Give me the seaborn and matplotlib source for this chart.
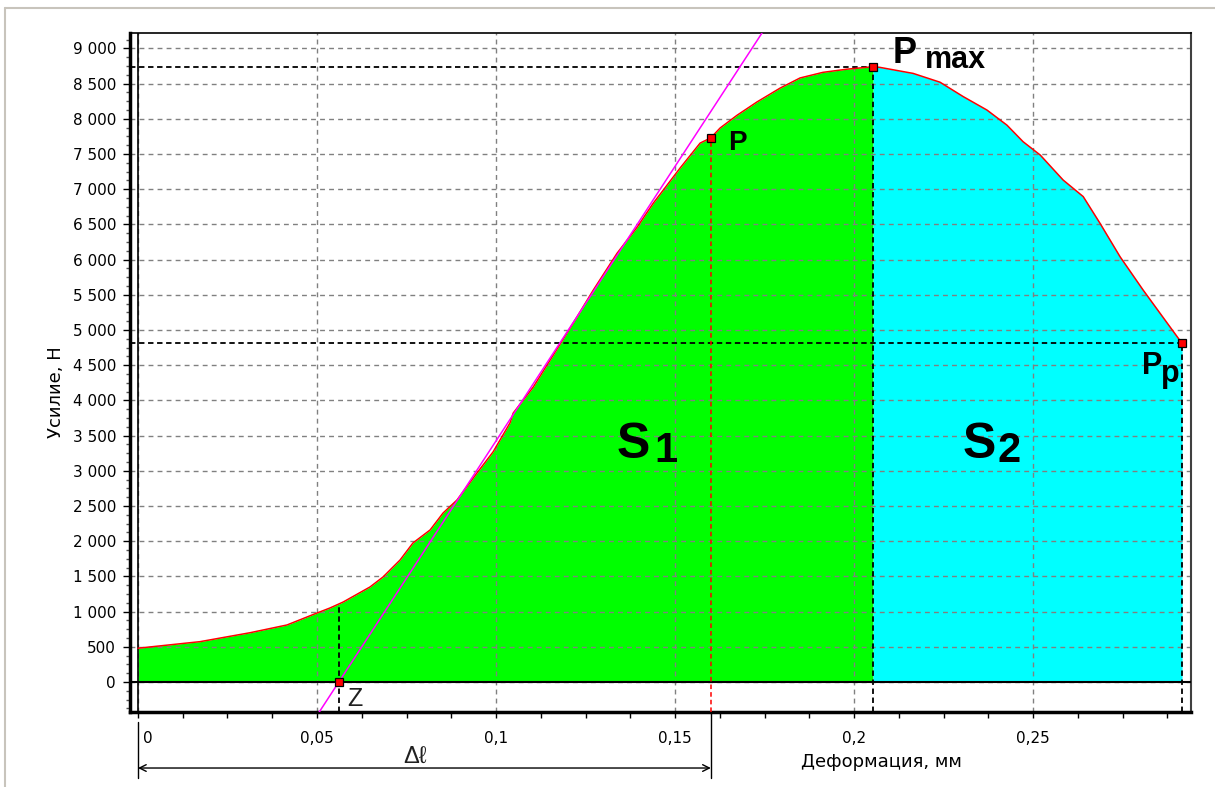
import matplotlib
matplotlib.use("Agg")
import matplotlib.pyplot as plt
from matplotlib.lines import Line2D
from matplotlib.ticker import MultipleLocator, FixedLocator
from matplotlib.transforms import ScaledTranslation
import numpy as np
import pandas as pd
import seaborn as sns

# deformation (mm) / force (N)
deformation = [0.0000, 0.0173, 0.0313, 0.0416, 0.0500, 0.0536, 0.0573, 0.0648,
               0.0684, 0.0732, 0.0768, 0.0816, 0.0852, 0.0891, 0.0947, 0.0992,
               0.1039, 0.1048, 0.1104, 0.1179, 0.1226, 0.1272, 0.1338, 0.1394,
               0.1439, 0.1514, 0.1570, 0.1600, 0.1626, 0.1673, 0.1729, 0.1793,
               0.1849, 0.1913, 0.1980, 0.2053, 0.2073, 0.2165, 0.2240, 0.2305,
               0.2371, 0.2427, 0.2472, 0.2520, 0.2584, 0.2640, 0.2687, 0.2743,
               0.2807, 0.2855, 0.2916]
force = [480, 573, 700, 810, 980, 1051, 1136, 1350,
         1490, 1733, 1975, 2160, 2400, 2585, 2970, 3270,
         3680, 3820, 4190, 4800, 5185, 5570, 6090, 6460,
         6800, 7300, 7655, 7730, 7870, 8050, 8240, 8435,
         8580, 8660, 8705, 8740, 8730, 8645, 8520, 8315,
         8125, 7910, 7675, 7485, 7130, 6895, 6515, 6040,
         5570, 5235, 4810]

# characteristic points
p_point = (0.1600, 7730)
pmax_point = (0.2053, 8740)
pp_point = (0.2916, 4810)
z_point = (0.0561, 0)

# tangent line through Z
tangent_x = [0.0500, 0.1750]
tangent_y = [-475, 9275]

x_ticks = [0, 0.05, 0.1, 0.15, 0.2, 0.25]
x_tick_labels = ["0", "0,05", "0,1", "0,15", "0,2", "0,25"]
y_ticks = list(range(0, 9001, 500))
y_tick_labels = [f"{v:,}".replace(",", " ") for v in y_ticks]

df = pd.DataFrame({"x": deformation, "y": force})

sns.set_theme(style="white")
plt.rcParams["font.family"] = ["Liberation Sans", "DejaVu Sans"]
plt.rcParams["text.color"] = "black"
plt.rcParams["axes.labelcolor"] = "black"
plt.rcParams["xtick.color"] = "black"
plt.rcParams["ytick.color"] = "black"

ui_font = ["DejaVu Sans"]

fig = plt.figure(figsize=(12.15, 7.87), dpi=100)
ax = fig.add_axes([130 / 1215, 75 / 787, 1061 / 1215, 679 / 787])

xmin, xmax = -0.00223, 0.2941
ymin, ymax = -426, 9219
ax.set_xlim(xmin, xmax)
ax.set_ylim(ymin, ymax)

# filled areas S1 and S2
s1 = df[df.x <= pmax_point[0]]
s2 = df[df.x >= pmax_point[0]]
ax.fill_between(s1.x, s1.y, 0, color="#00FF00", lw=0, zorder=1)
ax.fill_between(s2.x, s2.y, 0, color="#00FFFF", lw=0, zorder=1)

# grid over the fill
ax.set_axisbelow("line")
ax.grid(True, which="major", color="#808080", linestyle=(0, (3.5, 3)), linewidth=1)

# zero lines
ax.axhline(0, color="black", lw=1.5, zorder=3)
ax.axvline(0, color="black", lw=1.2, zorder=3)

# curve
sns.lineplot(data=df, x="x", y="y", ax=ax, color="red", lw=1.1, sort=False, zorder=4)

# tangent
ax.plot(tangent_x, tangent_y, color="#FF00FF", lw=1.1, zorder=4)

dash = (0, (3, 2))
ax.hlines(pmax_point[1], xmin, pmax_point[0], color="black", lw=1.3, linestyle=dash, zorder=3)
ax.hlines(pp_point[1], xmin, pp_point[0], color="black", lw=1.3, linestyle=dash, zorder=3)
ax.vlines(pmax_point[0], ymin, pmax_point[1], color="black", lw=1.3, linestyle=dash, zorder=3)
ax.vlines(pp_point[0], ymin, pp_point[1], color="black", lw=1.3, linestyle=dash, zorder=3)
ax.vlines(p_point[0], ymin, p_point[1], color="red", lw=1.1, linestyle=dash, zorder=3)
z_top = np.interp(z_point[0], deformation, force)
ax.vlines(z_point[0], ymin, z_top, color="black", lw=1.3, linestyle=dash, zorder=3)

# markers
for px, py in [p_point, pmax_point, pp_point, z_point]:
    ax.plot(px, py, marker="s", ms=5.5, mfc="red", mec="black", mew=0.9, zorder=6, clip_on=False)

# labels on the chart
ax.text(0.1648, 7557, "P", fontsize=20, fontweight="bold", va="baseline", zorder=7)
ax.text(0.2109, 8793, "P", fontsize=26, fontweight="bold", va="baseline", zorder=7)
ax.text(0.2199, 8722, "max", fontsize=22, fontweight="bold", va="baseline", zorder=7)
ax.text(0.2805, 4375, "P", fontsize=22, fontweight="bold", va="baseline", zorder=7)
ax.text(0.2858, 4255, "p", fontsize=22, fontweight="bold", va="baseline", zorder=7)
ax.text(0.1338, 3182, "S", fontsize=36, fontweight="bold", va="baseline", zorder=7)
ax.text(0.1442, 3125, "1", fontsize=30, fontweight="bold", va="baseline", zorder=7)
ax.text(0.2304, 3182, "S", fontsize=36, fontweight="bold", va="baseline", zorder=7)
ax.text(0.2400, 3125, "2", fontsize=30, fontweight="bold", va="baseline", zorder=7)
ax.text(0.0584, -341, "Z", fontsize=18, va="baseline", color="#202020", zorder=7)

# delta-l dimension below the axis
xt = ax.get_xaxis_transform()
ax.plot([0, 0], [-0.015, -0.097], transform=xt, color="black", lw=1, clip_on=False)
ax.plot([p_point[0], p_point[0]], [0, -0.097], transform=xt, color="black", lw=1, clip_on=False)
ax.annotate("", xy=(0, -0.0825), xytext=(p_point[0], -0.0825), xycoords=xt,
            arrowprops=dict(arrowstyle="<->", lw=1, color="black", shrinkA=0, shrinkB=0,
                            mutation_scale=12),
            annotation_clip=False)
ax.text(0.074, -0.075, "Δℓ", transform=xt, fontsize=17, va="baseline",
        family=["Liberation Sans", "DejaVu Sans"], color="#202020")

# ticks
ax.xaxis.set_major_locator(FixedLocator(x_ticks))
ax.set_xticklabels(x_tick_labels, family=ui_font)
ax.xaxis.set_minor_locator(MultipleLocator(0.0125))
ax.yaxis.set_major_locator(FixedLocator(y_ticks))
ax.set_yticklabels(y_tick_labels, family=ui_font)
ax.yaxis.set_minor_locator(MultipleLocator(125))
ax.tick_params(axis="x", which="both", direction="out", length=4, width=1, color="black",
               labelsize=11, pad=10, bottom=True)
ax.tick_params(axis="y", which="major", direction="out", length=5, width=1, color="black",
               labelsize=11, pad=5, left=True)
ax.tick_params(axis="y", which="minor", direction="out", length=3, width=1, color="#555555",
               left=True)
first = ax.get_xticklabels()[0]
first.set_horizontalalignment("left")
first.set_transform(first.get_transform() + ScaledTranslation(5 / 100, 0, fig.dpi_scale_trans))

ax.set_xlabel("Деформация, мм", fontsize=13, family=ui_font)
ax.set_ylabel("Усилие, Н", fontsize=13, family=ui_font)
ax.xaxis.set_label_coords(0.708, -0.061)
ax.yaxis.set_label_coords(-0.061, 0.471)

for side in ["left", "bottom"]:
    ax.spines[side].set_linewidth(2.5)
    ax.spines[side].set_color("black")
ax.spines["top"].set_linewidth(1.2)
ax.spines["top"].set_color("black")
ax.spines["right"].set_linewidth(1.5)
ax.spines["right"].set_color("#404040")

# window frame lines
fig.add_artist(Line2D([5 / 1215, 1], [1 - 8 / 787, 1 - 8 / 787], color="#c8c4bc", lw=1.5))
fig.add_artist(Line2D([5 / 1215, 5 / 1215], [0, 1 - 8 / 787], color="#c8c4bc", lw=1.5))

fig.savefig("out.png", dpi=100)
plt.close(fig)
